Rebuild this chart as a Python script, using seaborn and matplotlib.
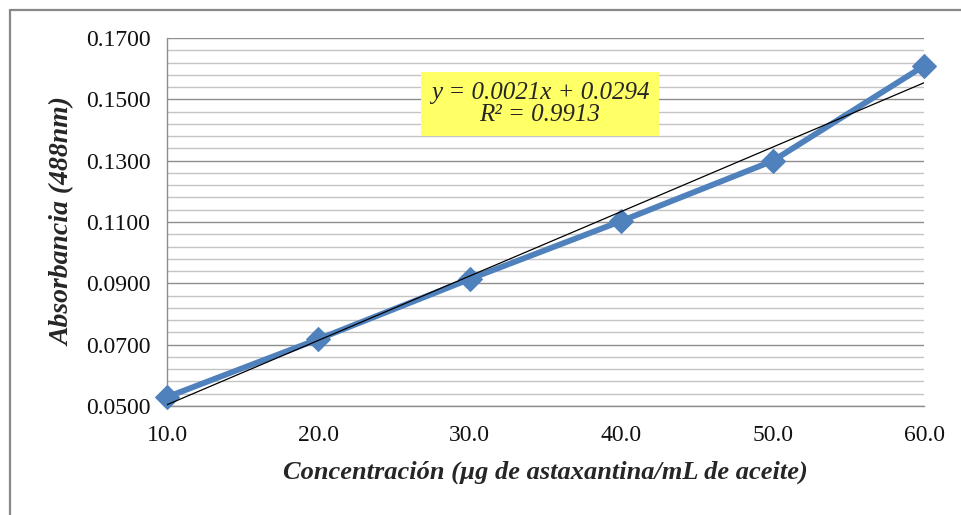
import numpy as np
import pandas as pd
import matplotlib
matplotlib.use("Agg")
import matplotlib.pyplot as plt
import seaborn as sns
from matplotlib.lines import Line2D
from matplotlib.ticker import FixedLocator, FormatStrFormatter

# Calibration data: concentration vs absorbance at 488 nm
concentracion = [10.0, 20.0, 30.0, 40.0, 50.0, 60.0]
absorbancia = [0.0529, 0.0718, 0.0914, 0.1103, 0.1299, 0.1609]

# Linear trendline coefficients
pendiente = 0.0021
intercepto = 0.0294
r2 = 0.9913

x_ticks = [10.0, 20.0, 30.0, 40.0, 50.0, 60.0]
y_ticks = [0.05, 0.07, 0.09, 0.11, 0.13, 0.15, 0.17]

df = pd.DataFrame({"conc": concentracion, "abs": absorbancia})

sns.set_style("white")
plt.rcParams["font.family"] = ["Liberation Serif", "DejaVu Serif"]

fig = plt.figure(figsize=(9.62, 5.15), dpi=100)
ax = fig.add_axes([0.1736, 0.2117, 0.9605 - 0.1736, 0.9262 - 0.2117])

blue = "#4F81BD"
sns.lineplot(data=df, x="conc", y="abs", ax=ax, color=blue, linewidth=4.2,
             marker="D", markersize=12, markeredgecolor=blue,
             markerfacecolor=blue, zorder=3, clip_on=False)

# Trendline from the stated equation
xt = np.array([concentracion[0], concentracion[-1]])
ax.plot(xt, pendiente * xt + intercepto, color="black", linewidth=0.9, zorder=4)

ax.set_xlim(10, 60)
ax.set_ylim(y_ticks[0], y_ticks[-1])
ax.set_xticks(x_ticks)
ax.xaxis.set_major_formatter(FormatStrFormatter("%.1f"))
ax.yaxis.set_major_locator(FixedLocator(y_ticks))
minor = np.round(np.arange(y_ticks[0], y_ticks[-1] + 1e-9, 0.004), 4)
ax.yaxis.set_minor_locator(FixedLocator([m for m in minor if m not in y_ticks]))
ax.yaxis.set_major_formatter(FormatStrFormatter("%.4f"))

ax.grid(which="major", axis="y", color="#8e8e8e", linewidth=1.0, zorder=0)
ax.grid(which="minor", axis="y", color="#c4c4c4", linewidth=1.0, zorder=0)
ax.grid(which="major", axis="x", visible=False)
ax.set_axisbelow(True)

for side in ["top", "right"]:
    ax.spines[side].set_visible(False)
for side in ["left", "bottom"]:
    ax.spines[side].set_color("#8e8e8e")
    ax.spines[side].set_linewidth(1.0)

ax.tick_params(axis="both", which="major", direction="out", length=6,
               width=1.0, color="#8e8e8e", labelsize=17, labelcolor="#111111")
ax.tick_params(axis="x", pad=8)
ax.tick_params(axis="y", pad=6)
ax.tick_params(axis="y", which="minor", length=0)

ax.set_xlabel("Concentración (µg de astaxantina/mL de aceite)", fontsize=19,
              fontweight="bold", fontstyle="italic", labelpad=10)
ax.set_ylabel("Absorbancia (488nm)", fontsize=20, fontweight="bold",
              fontstyle="italic", labelpad=7)

ax.text(0.4927, 0.8207, f"y = {pendiente:.4f}x + {intercepto:.4f}\nR² = {r2:.4f}",
        transform=ax.transAxes, ha="center", va="center", fontsize=18,
        fontstyle="italic", linespacing=1.05, zorder=5,
        bbox=dict(boxstyle="square,pad=0.4", facecolor="#FFFF66",
                  edgecolor="none"))

# Chart area frame (left and top edges)
fig.add_artist(Line2D([9.5 / 962, 9.5 / 962], [0, 1 - 9.5 / 515],
                      transform=fig.transFigure, color="#888888", linewidth=1.6))
fig.add_artist(Line2D([9.5 / 962, 1], [1 - 9.5 / 515, 1 - 9.5 / 515],
                      transform=fig.transFigure, color="#888888", linewidth=1.6))

fig.savefig("out.png", dpi=100)
